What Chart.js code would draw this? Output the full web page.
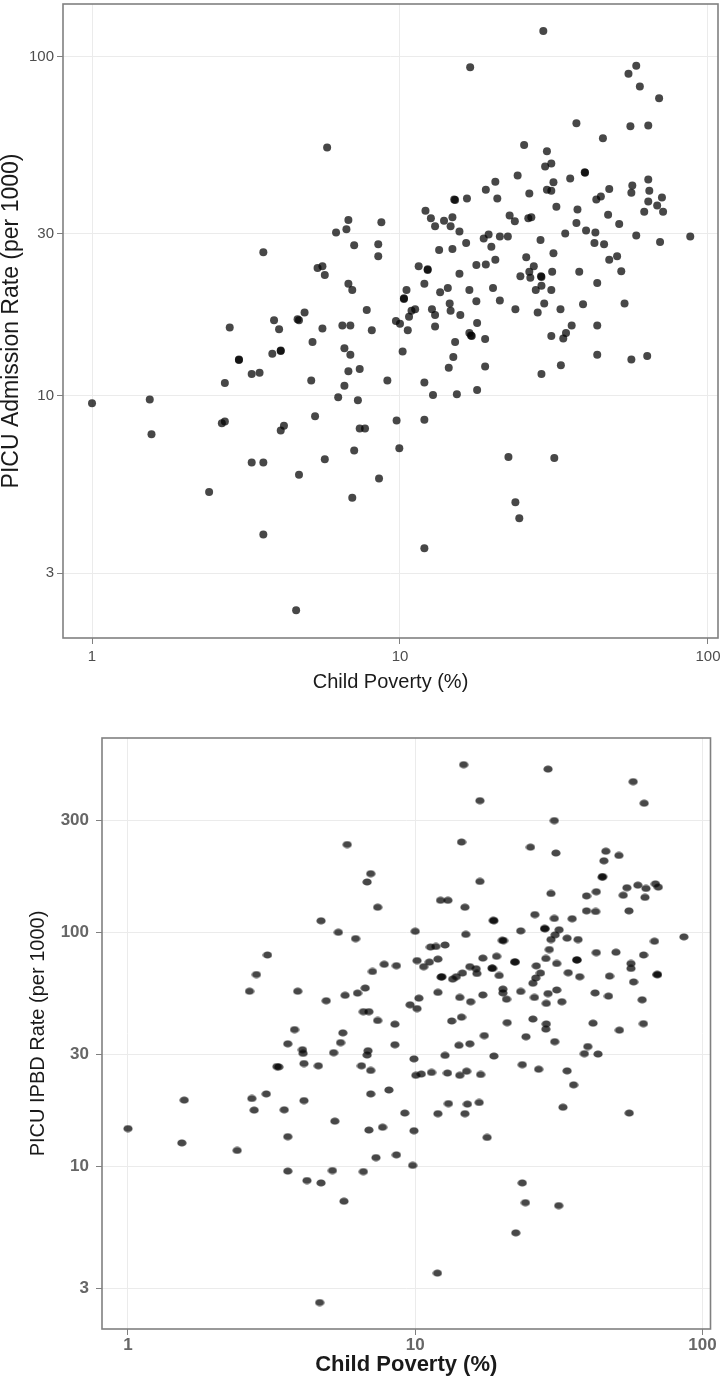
<!DOCTYPE html>
<html>
<head>
<meta charset="utf-8">
<script src="https://cdn.jsdelivr.net/npm/chart.js@4.4.1/dist/chart.umd.min.js"></script>
<style>
    body { margin: 0; background: #fff; }
    canvas { position: absolute; left: 0; }
    #topChart { top: 0; }
    #bottomChart { top: 700px; }
</style>
</head>
<body>
<canvas id="topChart" width="724" height="700"></canvas>
<canvas id="bottomChart" width="724" height="682"></canvas>
<script>
// tick labels
var povertyTicks = [1, 10, 100];
var admissionTicks = [3, 10, 30, 100];
var ipbdTicks = [3, 10, 30, 100, 300];

// top panel: child poverty (%) vs PICU admission rate (per 1000)
var topPoverty = [
    5.8, 6.8, 8.7, 6.2, 6.7, 7.1, 8.5, 8.5, 3.6, 5.4, 5.6, 5.7, 6.8, 7.0, 7.8, 4.9, 4.7, 4.65, 3.9, 2.8,
    4.05, 5.6, 6.5, 6.9, 8.1, 9.7, 10, 5.2, 6.6, 6.9, 3.85, 4.1, 4.1, 3.0, 3.0, 3.3, 3.5, 7.4, 6.8, 5.15,
    6.6, 9.1, 2.7, 6.3, 7.3, 1.0, 1.54, 1.56, 2.64, 2.7, 4.1, 4.2, 5.3, 9.75, 7.4, 7.7, 7.1, 9.95, 3.3, 3.6,
    5.7, 4.7, 8.55, 2.4, 7.0, 3.6, 4.6,
    29.2, 16.9, 58.5, 55.2, 60.1, 69.4, 37.4, 56, 64, 45.6, 25.3, 30, 29.6, 31, 39.9, 39.8, 24.1, 35.7, 20.4, 31.5,
    56.8, 56.4, 64, 64.5, 30, 31, 19, 26.3, 47.8, 43.4, 44.9, 15, 15.1, 16.5, 20.7, 70.9, 64, 68.4, 62.1, 71.5,
    32.2, 37.7, 12.1, 12.6, 13.9, 13, 14.8, 14.6, 22.7, 23.6, 26.1, 26.7, 47.4, 37.4, 51.5, 15.6, 40.2, 43.1, 34.4, 58.5,
    87.6, 69.9, 19.4, 18.7, 21.1, 22.4, 28.6, 16.4, 42.8, 46, 19.8, 13.4, 14.8, 31.5, 20.4, 25.7, 47.8, 50.7, 11.5, 12.3,
    12.3, 17.7, 19, 27.2, 15.6, 24.6, 26.3, 26.5, 28.8, 28.7, 31.2, 38.2, 52.3, 12, 28.8, 43.7, 10.5, 14.3, 13.5, 16.8,
    20.05, 27.6, 31, 10.3, 10.3, 17.7, 21.1, 14.5, 14.6, 29.4, 53.6, 39.3, 11.2, 10.9, 12.7, 13, 15.7, 23.7, 28, 33.2,
    10.7, 13, 17.8, 36.1, 43.7, 10.6, 16.8, 17.1, 17.0, 15.1, 18.9, 31, 33.9, 34.6, 10.2, 14.9, 14.4, 18.9, 28.8, 33.3,
    43.7, 56.4, 63.5, 12, 12.8, 15.3, 17.8, 12, 22.5, 31.7, 23.7, 24.4, 12
];
var topAdmission = [
    54, 33, 32.5, 30.3, 31, 27.8, 28, 25.8, 26.5, 23.8, 24.1, 22.7, 21.4, 20.5, 17.9, 17.6, 16.7, 16.8, 16.7, 15.9,
    15.7, 15.8, 16.1, 16.1, 15.6, 16.6, 16.3, 14.4, 13.8, 13.2, 13.3, 13.6, 13.55, 12.8, 12.75, 11.6, 11.7, 12.0, 11.8, 11.1,
    10.7, 11.1, 10.9, 9.9, 9.7, 9.5, 9.75, 7.7, 8.3, 8.4, 7.9, 8.15, 8.7, 8.45, 8.0, 8.0, 6.9, 7.0, 6.35, 6.35,
    6.5, 5.85, 5.7, 5.2, 5.0, 3.9, 2.33,
    119, 93, 94, 89, 81.7, 75.4, 63.6, 62.3, 62.7, 57.5, 54.9, 52.6, 47.4, 48.4, 45.5, 45.6, 44.6, 43.7, 42.8, 42.6,
    41.7, 39.7, 43.4, 40.2, 40.5, 40.2, 40.5, 39.5, 40.7, 37.9, 38.7, 37.9, 37.8, 38.2, 38.2, 38.4, 37.4, 36.4, 34.9, 34.9,
    36.1, 35.4, 35.1, 33.4, 32.8, 31.6, 33.6, 31.6, 34, 32.7, 33.4, 33.6, 34.2, 32.3, 32.1, 30.5, 30.7, 30.3, 30.1, 29.7,
    29.5, 28.4, 29.9, 29.1, 29.5, 29.5, 28.8, 28.2, 28.2, 28, 27.5, 26.9, 27.1, 26.3, 25.2, 25.6, 25.2, 25.8, 24.1, 23.6,
    23.5, 24.3, 24.4, 24.1, 22.9, 22.5, 23.2, 22.3, 22.4, 22.5, 23.2, 23.2, 23.3, 21.4, 21.1, 21.5, 20.5, 20.8, 20.2, 20.5,
    20.8, 20.5, 20.5, 19.4, 19.3, 19.0, 19.1, 18.7, 17.8, 18.7, 18.7, 18.6, 18, 17.8, 18, 17.3, 17.3, 18, 17.6, 18,
    17.1, 16, 16.4, 16.1, 16.1, 15.6, 15.3, 15, 15.05, 14.4, 14.7, 15, 14.75, 15.3, 13.5, 13, 12.1, 12.2, 11.6, 12.3,
    13.2, 12.8, 13.1, 10.95, 10.05, 10.1, 10.4, 8.5, 6.6, 6.55, 4.85, 4.35, 3.55
];

// bottom panel: child poverty (%) vs PICU IPBD rate (per 1000)
var bottomPoverty = [
    5.8, 7.0, 6.8, 7.4, 4.7, 5.4, 6.2, 10, 3.06, 2.8,
    2.65, 3.9, 7.8, 8.6, 7.1, 6.7, 6.3, 5.7, 4.9, 9.6,
    10.15, 10.3, 6.6, 6.9, 7.4, 8.5, 3.8, 5.6, 3.6, 5.5, 8.5,
    4.05, 4.07, 5.2, 6.85, 6.8, 9.9, 3.3, 3.35, 4.1, 4.6, 6.5, 7.0,
    1.57, 2.7, 3.03, 2.75, 3.5, 4.1, 7.0, 8.1, 9.2,
    1.0, 1.54, 2.4, 3.6, 5.25, 6.9, 7.7, 9.9,
    7.3, 8.6, 9.8, 3.6, 4.2, 4.7, 5.15, 6.6, 5.65, 4.65,
    14.2, 15.5, 30.6, 12.7, 18.8, 39.9, 38.8, 43.3,
    10.05, 10.5, 11.4, 12.95, 14.3, 15.1, 16.9, 23.6, 26.9, 33.8, 35.6,
    13.05, 15.2, 16.7, 12, 14.9, 32.7, 55.6, 17.8,
    23.6, 24.2, 31.6, 22.4, 11.95,
    14.75, 29, 57.4, 16.8, 62.7, 30.5, 14.5, 25.2, 30.9, 46.1, 51.2, 45.4, 44.8, 44.9,
    16.8, 29.7, 39.5, 42.7, 54.6, 59.6, 63.6, 68.6, 70.2, 53, 63.1, 12.25, 13, 14.9, 39.5, 42.5, 55.5, 26.1, 30.5, 35.2,
    18.7, 18.8, 28.3, 28.2,
    23.3, 31.7, 30.7, 29.7, 15, 33.8, 36.9, 20.3, 20.1,
    86.2, 68.1, 29.3, 42.7, 50, 62.4, 11.3, 11.8, 12.7, 17.2, 19.2, 22.3, 22.2,
    28.5, 31.1, 36.6, 36.5,
    56.4, 56.4, 10.15, 10.7, 11.2, 12, 15.5, 16.3, 16.4, 14.6, 18.6, 18.5,
    19.6, 26.4, 27.3, 26.3, 25.7, 34.1, 37.4, 47.5, 57.6, 69.7, 69.6, 12.4, 12.3,
    13.5, 13.9, 12, 14.3, 15.6, 17.2, 20.2, 20.2, 20.8, 23.3, 26, 29, 31.1, 28.6, 32.4, 42.3, 47.1, 61.7,
    13.4, 14.5, 20.9, 25.7, 28.6, 28.5, 41.6, 51.4, 62.3, 17.4, 24.3
];
var bottomIpbd = [
    237, 178, 164, 128, 112, 100, 94, 101, 80, 66,
    56, 56, 73, 72, 68, 57.8, 55, 53.8, 51, 49,
    47.2, 52.3, 45.8, 45.8, 42, 40.5, 38.4, 37.2, 33.4, 33.8, 33.1,
    31.5, 30.4, 30.6, 31.2, 29.9, 28.8, 26.7, 26.6, 27.5, 26.9, 26.9, 25.7,
    19.2, 19.5, 20.4, 17.4, 17.45, 19.1, 20.4, 21.2, 16.9,
    14.5, 12.6, 11.7, 13.4, 15.6, 14.3, 14.7, 14.2,
    10.9, 11.2, 10.1, 9.55, 8.7, 8.5, 9.6, 9.5, 7.1, 2.62,
    32.9, 33.4, 34.1, 29.8, 29.6, 32.5, 30.3, 30.2,
    24.5, 24.8, 25.2, 25.05, 24.5, 25.5, 24.7, 27.2, 26, 25.6, 22.3,
    18.55, 18.45, 18.75, 16.8, 16.8, 17.9, 16.9, 13.3,
    8.5, 7.0, 6.8, 5.2, 3.5,
    520, 498, 440, 365, 356, 300, 243, 231, 218, 222, 213, 202, 172, 173,
    165, 146.5, 143, 149, 155, 159, 154, 161, 156, 144, 141, 137, 137, 128, 123.5, 122.7, 123.5, 119, 114.6, 114.3,
    112.4, 112.2, 103.6, 103.8,
    101.4, 102.5, 97.5, 93.1, 98, 94.4, 93.1, 92.2, 92.4,
    95.6, 91.6, 84.4, 81.9, 82.2, 80, 86.5, 87, 88.3, 77.6, 79, 74.6, 74.8,
    77.3, 73.6, 76.1, 76.3,
    73.6, 70.1, 75.7, 71.3, 74.6, 76.8, 71.3, 69.9, 66.7, 67, 70.1, 70.3,
    65.4, 71.9, 67, 63.8, 60.6, 67.2, 64.6, 65, 61.4, 65.9, 66.1, 64.6, 64.4,
    63.1, 64.6, 55.4, 52.7, 50.5, 54, 57.2, 55.1, 51.8, 55.9, 52.7, 54.7, 56.7, 49.7, 50.5, 55.1, 53.4, 51.5,
    41.8, 43.4, 41.1, 42.6, 40.6, 38.6, 40.9, 38.2, 40.7, 36.2, 35.8
];

Chart.defaults.font.family = "'Liberation Sans', Arial, sans-serif";

var DOT = 'rgba(0, 0, 0, 0.72)';

// box round the panel, like theme_bw
var panelBorder = {
    id: 'panelBorder',
    afterDatasetsDraw: function (chart) {
        var a = chart.chartArea;
        var ctx = chart.ctx;
        ctx.save();
        ctx.strokeStyle = '#808080';
        ctx.lineWidth = 1.6;
        ctx.strokeRect(a.left, a.top, a.right - a.left, a.bottom - a.top);
        ctx.restore();
    }
};

// the lower picture has slightly squashed dots
function ellipseDot() {
    var c = document.createElement('canvas');
    c.width = 10;
    c.height = 8;
    var g = c.getContext('2d');
    g.fillStyle = DOT;
    g.beginPath();
    g.ellipse(5, 4, 4.6, 3.6, 0, 0, Math.PI * 2);
    g.fill();
    return c;
}

function toPoints(xs, ys) {
    var pts = [];
    for (var i = 0; i < xs.length; i++) {
        pts.push({ x: xs[i], y: ys[i] });
    }
    return pts;
}

function fixedTicks(vals) {
    return function (scale) {
        scale.ticks = vals.map(function (v) { return { value: v }; });
    };
}

function renderChart(canvasId, xs, ys, o) {
    var ctx = document.getElementById(canvasId).getContext('2d');
    return new Chart(ctx, {
        type: 'scatter',
        data: {
            datasets: [{
                data: toPoints(xs, ys),
                pointStyle: o.pointStyle,
                pointRadius: 4,
                pointBackgroundColor: DOT,
                pointBorderWidth: 0
            }]
        },
        options: {
            responsive: false,
            animation: false,
            events: [],
            layout: { padding: o.padding },
            plugins: { legend: { display: false }, tooltip: { enabled: false } },
            scales: {
                x: {
                    type: 'logarithmic',
                    bounds: 'data',
                    min: o.xMin,
                    max: o.xMax,
                    afterBuildTicks: fixedTicks(povertyTicks),
                    afterFit: function (s) {
                        s.height = o.xAxisHeight;
                        s.paddingLeft = 0; s.paddingRight = 0; s.paddingTop = 0; s.paddingBottom = 0;
                    },
                    grid: { color: '#ebebeb', tickColor: '#808080', tickLength: 6 },
                    border: { display: false },
                    ticks: {
                        autoSkip: false,
                        maxRotation: 0,
                        padding: o.xTickPad,
                        color: o.tickColor,
                        font: o.tickFont,
                        callback: function (v) { return String(v); }
                    },
                    title: {
                        display: true,
                        text: 'Child Poverty (%)',
                        color: '#1a1a1a',
                        font: o.xTitleFont,
                        padding: { top: 0, bottom: o.xTitlePad }
                    }
                },
                y: {
                    type: 'logarithmic',
                    bounds: 'data',
                    min: o.yMin,
                    max: o.yMax,
                    afterBuildTicks: fixedTicks(o.yTicks),
                    afterFit: function (s) {
                        s.width = o.yAxisWidth;
                        s.paddingLeft = 0; s.paddingRight = 0; s.paddingTop = 0; s.paddingBottom = 0;
                    },
                    grid: { color: '#ebebeb', tickColor: '#808080', tickLength: 6 },
                    border: { display: false },
                    ticks: {
                        autoSkip: false,
                        padding: o.yTickPad,
                        color: o.tickColor,
                        font: o.tickFont,
                        callback: function (v) { return String(v); }
                    },
                    title: {
                        display: true,
                        text: o.yTitle,
                        color: '#1a1a1a',
                        font: o.yTitleFont,
                        padding: { top: o.yTitlePad, bottom: 0 }
                    }
                }
            }
        },
        plugins: [panelBorder]
    });
}

renderChart('topChart', topPoverty, topAdmission, {
    pointStyle: 'circle',
    padding: { left: 0, top: 4, right: 6, bottom: 0 },
    xMin: 0.805, xMax: 107.8,
    yMin: 1.93, yMax: 143,
    yTicks: admissionTicks,
    xAxisHeight: 62, yAxisWidth: 63,
    xTickPad: 4, yTickPad: 3,
    tickColor: '#4d4d4d',
    tickFont: { size: 15 },
    xTitleFont: { size: 20, lineHeight: 1.2 },
    xTitlePad: 6,
    yTitle: 'PICU Admission Rate (per 1000)',
    yTitleFont: { size: 23, lineHeight: 1.05 },
    yTitlePad: 0
});

renderChart('bottomChart', bottomPoverty, bottomIpbd, {
    pointStyle: ellipseDot(),
    padding: { left: 0, top: 38, right: 13.5, bottom: 0 },
    xMin: 0.812, xMax: 106.7,
    yMin: 2.02, yMax: 676,
    yTicks: ipbdTicks,
    xAxisHeight: 53, yAxisWidth: 102,
    xTickPad: 0, yTickPad: 7,
    tickColor: '#666666',
    tickFont: { size: 17, weight: 'bold' },
    xTitleFont: { size: 22, weight: 'bold', lineHeight: 1.2 },
    xTitlePad: 4,
    yTitle: 'PICU IPBD Rate (per 1000)',
    yTitleFont: { size: 20, lineHeight: 1.2 },
    yTitlePad: 26
});
</script>
</body>
</html>
